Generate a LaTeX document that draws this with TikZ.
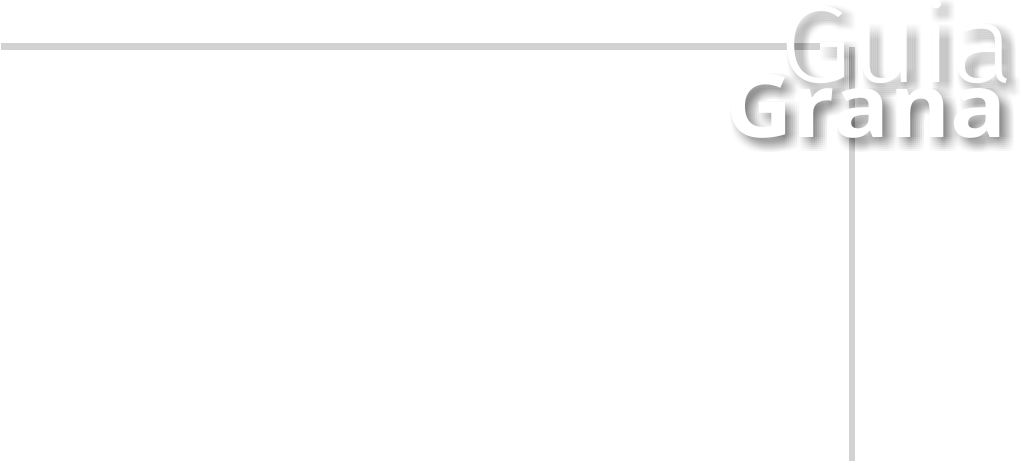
\documentclass[tikz,border=0pt]{standalone}
\usepackage{fontspec}
\newfontfamily\logofont{Open Sans}
\newfontfamily\lightfont{Fira Sans Light}
\definecolor{rule}{HTML}{D2D2D2}
\tikzset{
  rulestroke/.style={draw=rule},
  guiatext/.style={font=\lightfont\fontsize{110}{110}\selectfont, anchor=base west, inner sep=0pt, xscale=1.07},
  granatext/.style={font=\logofont\bfseries\fontsize{88}{88}\selectfont, anchor=base west, inner sep=0pt, xscale=1.06},
  shade/.style={text=black, opacity=0.008},
}
\begin{document}
\begin{tikzpicture}[x=1pt,y=-1pt]
\useasboundingbox (0,0) rectangle (1022,463);
\fill[white] (0,0) rectangle (1022,463);
\coordinate (hl) at (1,46.5);
\coordinate (hr) at (820,46.5);
\coordinate (vt) at (852,46.5);
\coordinate (vb) at (852,461);
\draw[rulestroke, line width=7pt] (hl) -- (hr);
\draw[rulestroke, line width=6pt] (vt) -- (vb);
% soft drop shadows
\foreach \dx in {0,2,...,14}{
  \foreach \dy in {0,2,...,14}{
    \node[guiatext, shade] (gs\dx\dy) at (779+\dx,82+\dy) {Guia};
    \node[granatext, shade] (rs\dx\dy) at (725+\dx,137+\dy) {Grana};
  }
}
\node[guiatext, text=white] (guia) at (779,82) {Guia};
\node[granatext, text=white] (grana) at (725,137) {Grana};
\end{tikzpicture}
\end{document}
